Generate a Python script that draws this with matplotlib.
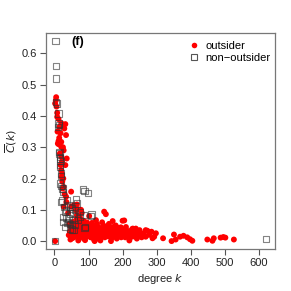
import matplotlib
matplotlib.use("Agg")
import matplotlib.pyplot as plt
from matplotlib.lines import Line2D

plt.rcParams['font.family'] = ['Liberation Sans', 'DejaVu Sans']

# outsider nodes (red dots): degree k, mean clustering C(k)
red_k = [2, 5, 4, 2, 6, 8, 8, 12, 20, 32, 29, 34, 15, 18, 12, 20, 25, 12, 10, 20,
         27, 36, 32, 20, 18, 20, 22, 21, 23, 24, 27, 49, 34, 27, 49, 57, 63, 73, 78, 66,
         68, 59, 102, 122, 146, 151, 171, 200, 205, 195, 239, 268, 66, 80, 9, 14, 16, 22, 26, 30,
         35, 40,
         42, 52, 45, 48, 50, 55, 58, 60, 44, 53, 57, 62, 47,
         64, 66, 68, 70, 72, 74, 76, 78, 80, 82, 84, 86, 88, 90, 92, 94, 96, 98, 100, 65,
         75, 85, 95, 70, 90,
         102, 104, 106, 108, 110, 112, 114, 116, 118, 120, 122, 124, 126, 128, 130, 132, 134, 136, 138, 140,
         142, 144, 146, 148, 150, 110, 125, 140, 118, 135,
         152, 155, 158, 160, 163, 165, 168, 170, 172, 175, 178, 180, 183, 185, 188, 190, 193, 196, 198, 160,
         180, 166,
         202, 205, 208, 212, 215, 218, 222, 225, 228, 232, 235, 238, 242, 245, 248, 252, 256, 259, 210, 230,
         250, 220,
         273, 268, 298, 293, 288, 319, 344, 351, 356, 369, 379, 390, 398, 405, 449, 464, 468, 488, 496, 502,
         527, 278, 285, 262,
         105, 115, 128, 145, 157, 170, 187, 200, 215, 240, 72, 84, 96]
red_c = [0.0, 0.46, 0.45, 0.44, 0.43, 0.41, 0.397, 0.39, 0.377, 0.374, 0.36, 0.339, 0.365, 0.345, 0.32, 0.317, 0.30, 0.31, 0.312, 0.301,
         0.29, 0.264, 0.243, 0.27, 0.243, 0.227, 0.216, 0.205, 0.19, 0.168, 0.173, 0.158, 0.142, 0.11, 0.11, 0.115, 0.099, 0.101, 0.1, 0.083,
         0.067, 0.062, 0.08, 0.067, 0.094, 0.086, 0.064, 0.065, 0.066, 0.044, 0.04, 0.035, 0.117, 0.09, 0.35, 0.33, 0.28, 0.255, 0.2, 0.15,
         0.125, 0.09,
         0.019, 0.009, 0.03, 0.045, 0.025, 0.04, 0.02, 0.05, 0.055, 0.06, 0.012, 0.03, 0.005,
         0.045, 0.02, 0.035, 0.055, 0.01, 0.028, 0.04, 0.06, 0.018, 0.033, 0.048, 0.008, 0.025, 0.04, 0.055, 0.015, 0.03, 0.045, 0.02, 0.07,
         0.075, 0.065, 0.06, 0.002, 0.003,
         0.035, 0.05, 0.012, 0.028, 0.042, 0.02, 0.035, 0.005, 0.048, 0.025, 0.038, 0.015, 0.03, 0.045, 0.02, 0.035, 0.01, 0.028, 0.042, 0.018,
         0.032, 0.05, 0.022, 0.012, 0.038, 0.058, 0.055, 0.06, 0.0, 0.002,
         0.025, 0.045, 0.015, 0.032, 0.02, 0.04, 0.01, 0.028, 0.045, 0.018, 0.035, 0.022, 0.008, 0.03, 0.042, 0.02, 0.028, 0.012, 0.036, 0.055,
         0.05, 0.0,
         0.022, 0.035, 0.012, 0.028, 0.018, 0.032, 0.01, 0.025, 0.038, 0.015, 0.028, 0.02, 0.008, 0.03, 0.018, 0.025, 0.012, 0.019, 0.045, 0.04,
         0.035, 0.002,
         0.033, 0.014, 0.025, 0.014, 0.009, 0.009, 0.0, 0.021, 0.005, 0.014, 0.017, 0.012, 0.006, 0.001, 0.005, 0.001, 0.009, 0.011, 0.013, 0.011,
         0.005, 0.02, 0.03, 0.025,
         0.022, 0.03, 0.008, 0.027, 0.035, 0.015, 0.024, 0.03, 0.025, 0.02, 0.042, 0.022, 0.038]

# non-outsider nodes (open squares)
sq_k = [3, 4, 5, 5, 7, 12, 12, 11, 14, 13, 17, 17, 20, 17, 22, 15, 17, 18, 17, 20,
        19, 26, 24, 88, 98, 83, 64, 36, 29, 41, 51, 31, 46, 61, 75, 85, 109, 107, 26, 41,
        56, 26, 36, 51, 31, 46, 61, 70, 56, 90, 88, 75, 20, 46, 66, 52, 2, 622, 22, 35,
        40, 33, 55, 45]
sq_c = [0.64, 0.56, 0.52, 0.445, 0.44, 0.408, 0.376, 0.365, 0.37, 0.28, 0.264, 0.243, 0.216, 0.184, 0.168, 0.285, 0.27, 0.256, 0.237, 0.208,
        0.177, 0.168, 0.158, 0.16, 0.154, 0.165, 0.133, 0.131, 0.11, 0.115, 0.104, 0.094, 0.088, 0.099, 0.094, 0.083, 0.085, 0.08, 0.078, 0.072,
        0.067, 0.062, 0.057, 0.051, 0.046, 0.04, 0.053, 0.067, 0.035, 0.044, 0.043, 0.078, 0.126, 0.11, 0.12, 0.037, 0.0, 0.006, 0.13, 0.1,
        0.06, 0.075, 0.09, 0.055]

xticks = [0, 100, 200, 300, 400, 500, 600]
yticks = [0.0, 0.1, 0.2, 0.3, 0.4, 0.5, 0.6]

fig = plt.figure(figsize=(2.91, 2.91), dpi=100)
ax = fig.add_axes([0.158, 0.144, 0.786, 0.743])

ax.scatter(red_k, red_c, s=18, c='red', edgecolors='none', zorder=2)
ax.scatter(sq_k, sq_c, s=20, marker='s', facecolors='none',
           edgecolors=(0.2, 0.2, 0.2, 0.6), linewidths=0.8, zorder=3)

ax.set_xlim(-24.9, 646.9)
ax.set_ylim(-0.0256, 0.6656)
ax.set_xticks(xticks)
ax.set_yticks(yticks)
ax.set_yticklabels([f"{v:.1f}" for v in yticks])
ax.tick_params(direction='out', length=4.5, width=0.8, color='#555555',
               labelsize=8, labelcolor='#222222', pad=2)
for sp in ax.spines.values():
    sp.set_color('#777777')
    sp.set_linewidth(0.9)

ax.set_xlabel('degree $k$', fontsize=8, color='#222222', labelpad=3)
ax.set_ylabel(r'$\overline{C}(k)$', fontsize=8, color='#222222', labelpad=2)
ax.text(0.14, 0.958, '(f)', transform=ax.transAxes, fontsize=9,
        fontweight='bold', ha='center', va='center')

handles = [Line2D([], [], ls='none', marker='o', ms=4, color='red', mec='none'),
           Line2D([], [], ls='none', marker='s', ms=4, mfc='none',
                  mec='#555555', mew=0.8)]
ax.legend(handles, ['outsider', 'non\u2212outsider'], loc='upper right',
          bbox_to_anchor=(1.0, 0.985),
          frameon=False, fontsize=8, handlelength=0.8, handletextpad=0.6,
          borderaxespad=0.1, labelspacing=0.2, borderpad=0.3)

fig.savefig('out.png', dpi=100)
